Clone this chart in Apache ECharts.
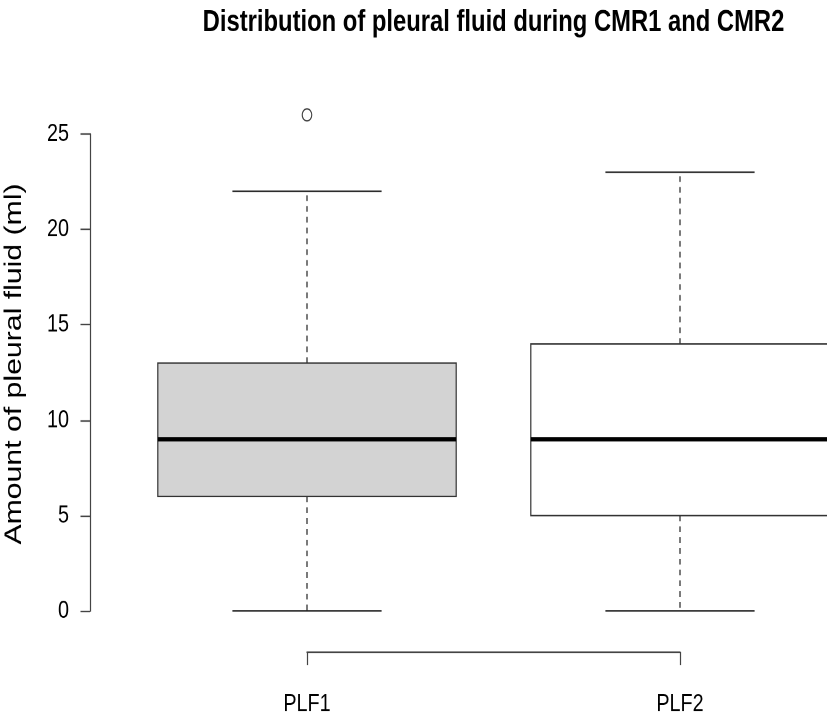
<!DOCTYPE html>
<html>
<head>
<meta charset="utf-8">
<script src="https://cdn.jsdelivr.net/npm/echarts@6/dist/echarts.min.js"></script>
<style>
html,body{margin:0;padding:0;background:#fff;overflow:hidden}
#wrap{width:827px;height:720px;overflow:hidden}
/* the reference plot is stretched vertically by ~1.27 */
#c{width:827px;height:567px;transform:scaleY(1.27);transform-origin:0 0}
</style>
</head>
<body>
<div id="wrap"><div id="c"></div></div>
<script>
// ---- data ----
const categories = ['PLF1', 'PLF2'];
const lowerWhisker = [0, 0];
const q1 = [6, 5];
const median = [9, 9];
const q3 = [13, 14];
const upperWhisker = [22, 23];
const outlierCategory = [0];
const outlierValue = [26];
const yTicks = [0, 5, 10, 15, 20, 25];
const titleText = 'Distribution of pleural fluid during CMR1 and CMR2';
const yTitle = 'Amount of pleural fluid (ml)';

// ---- styles ----
const boxFills = ['#d3d3d3', '#ffffff'];
const FONT = '"Liberation Sans", Arial, Helvetica, sans-serif';

// x positions 1..n (as in R's boxplot)
const boxData = categories.map((c, i) => [i + 1, lowerWhisker[i], q1[i], median[i], q3[i], upperWhisker[i]]);
const outlierData = outlierCategory.map((c, i) => [c + 1, outlierValue[i]]);

function renderBox(params, api) {
  const x = api.value(0);
  const i = params.dataIndex;
  const lo = api.coord([x, api.value(1)]);
  const b1 = api.coord([x, api.value(2)]);
  const md = api.coord([x, api.value(3)]);
  const b3 = api.coord([x, api.value(4)]);
  const hi = api.coord([x, api.value(5)]);
  const unit = api.size([1, 0])[0];
  const cx = lo[0];
  const hb = unit * 0.4, hc = unit * 0.2;
  const lineCol = '#222';
  const dash = { stroke: lineCol, lineWidth: 1.2, lineDash: [4.5, 4] };
  const solid = { stroke: lineCol, lineWidth: 1.1 };
  return {
    type: 'group',
    children: [
      { type: 'line', shape: { x1: cx, y1: b3[1], x2: cx, y2: hi[1] }, style: dash },
      { type: 'line', shape: { x1: cx, y1: b1[1], x2: cx, y2: lo[1] }, style: dash },
      { type: 'line', shape: { x1: cx - hc, y1: hi[1], x2: cx + hc, y2: hi[1] }, style: solid },
      { type: 'line', shape: { x1: cx - hc, y1: lo[1], x2: cx + hc, y2: lo[1] }, style: solid },
      { type: 'rect', shape: { x: cx - hb, y: b3[1], width: 2 * hb, height: b1[1] - b3[1] },
        style: { fill: boxFills[i], stroke: '#333', lineWidth: 1.2 } },
      { type: 'line', shape: { x1: cx - hb, y1: md[1], x2: cx + hb, y2: md[1] },
        style: { stroke: '#000', lineWidth: 3.5 } }
    ]
  };
}

const chart = echarts.init(document.getElementById('c'), null, { renderer: 'canvas', devicePixelRatio: 2 });
chart.setOption({
  animation: false,
  backgroundColor: '#fff',
  graphic: [
    { type: 'text', x: 493.5, y: 17.7,
      style: { text: titleText, fill: '#000', textAlign: 'center', textVerticalAlign: 'middle',
               font: 'bold 23.8px ' + FONT } },
    { type: 'text', x: 14.5, y: 286.6, rotation: Math.PI / 2,
      style: { text: yTitle, fill: '#000', textAlign: 'center', textVerticalAlign: 'middle',
               font: '23.8px ' + FONT } }
  ],
  grid: [
    { left: 120.5, right: 0.5, top: 105.5, height: 375.6 },
    { left: 307, width: 373, top: 512.4, height: 1 }
  ],
  xAxis: [
    { type: 'value', gridIndex: 0, min: 0.5, max: 0.5 + 706 / 373, show: false },
    { type: 'category', data: categories, gridIndex: 1, boundaryGap: false, position: 'bottom',
      axisLine: { lineStyle: { color: '#444', width: 1.2 } },
      axisTick: { show: true, inside: false, length: 10.2, interval: 0, lineStyle: { color: '#444', width: 1.2 } },
      axisLabel: { margin: 31, interval: 0, color: '#000', fontSize: 19.8, fontFamily: FONT },
      splitLine: { show: false } }
  ],
  yAxis: [
    { type: 'value', gridIndex: 0, min: 0, max: 25, interval: 5, offset: 30.5,
      axisLine: { show: true, lineStyle: { color: '#444', width: 1.2 } },
      axisTick: { show: true, inside: false, length: 9.5, lineStyle: { color: '#444', width: 1.2 } },
      axisLabel: { margin: 21, color: '#000', fontSize: 19.8, fontFamily: FONT,
                   formatter: v => (yTicks.indexOf(v) >= 0 ? String(v) : '') },
      splitLine: { show: false } },
    { type: 'value', gridIndex: 1, show: false }
  ],
  series: [
    { type: 'custom', xAxisIndex: 0, yAxisIndex: 0, data: boxData, renderItem: renderBox, clip: false,
      encode: { x: 0, y: [1, 2, 3, 4, 5] } },
    { type: 'scatter', xAxisIndex: 0, yAxisIndex: 0, data: outlierData, clip: false,
      symbol: 'circle', symbolSize: 9.5,
      itemStyle: { color: 'rgba(0,0,0,0)', borderColor: '#111', borderWidth: 1.1 } }
  ]
});
</script>
</body>
</html>
